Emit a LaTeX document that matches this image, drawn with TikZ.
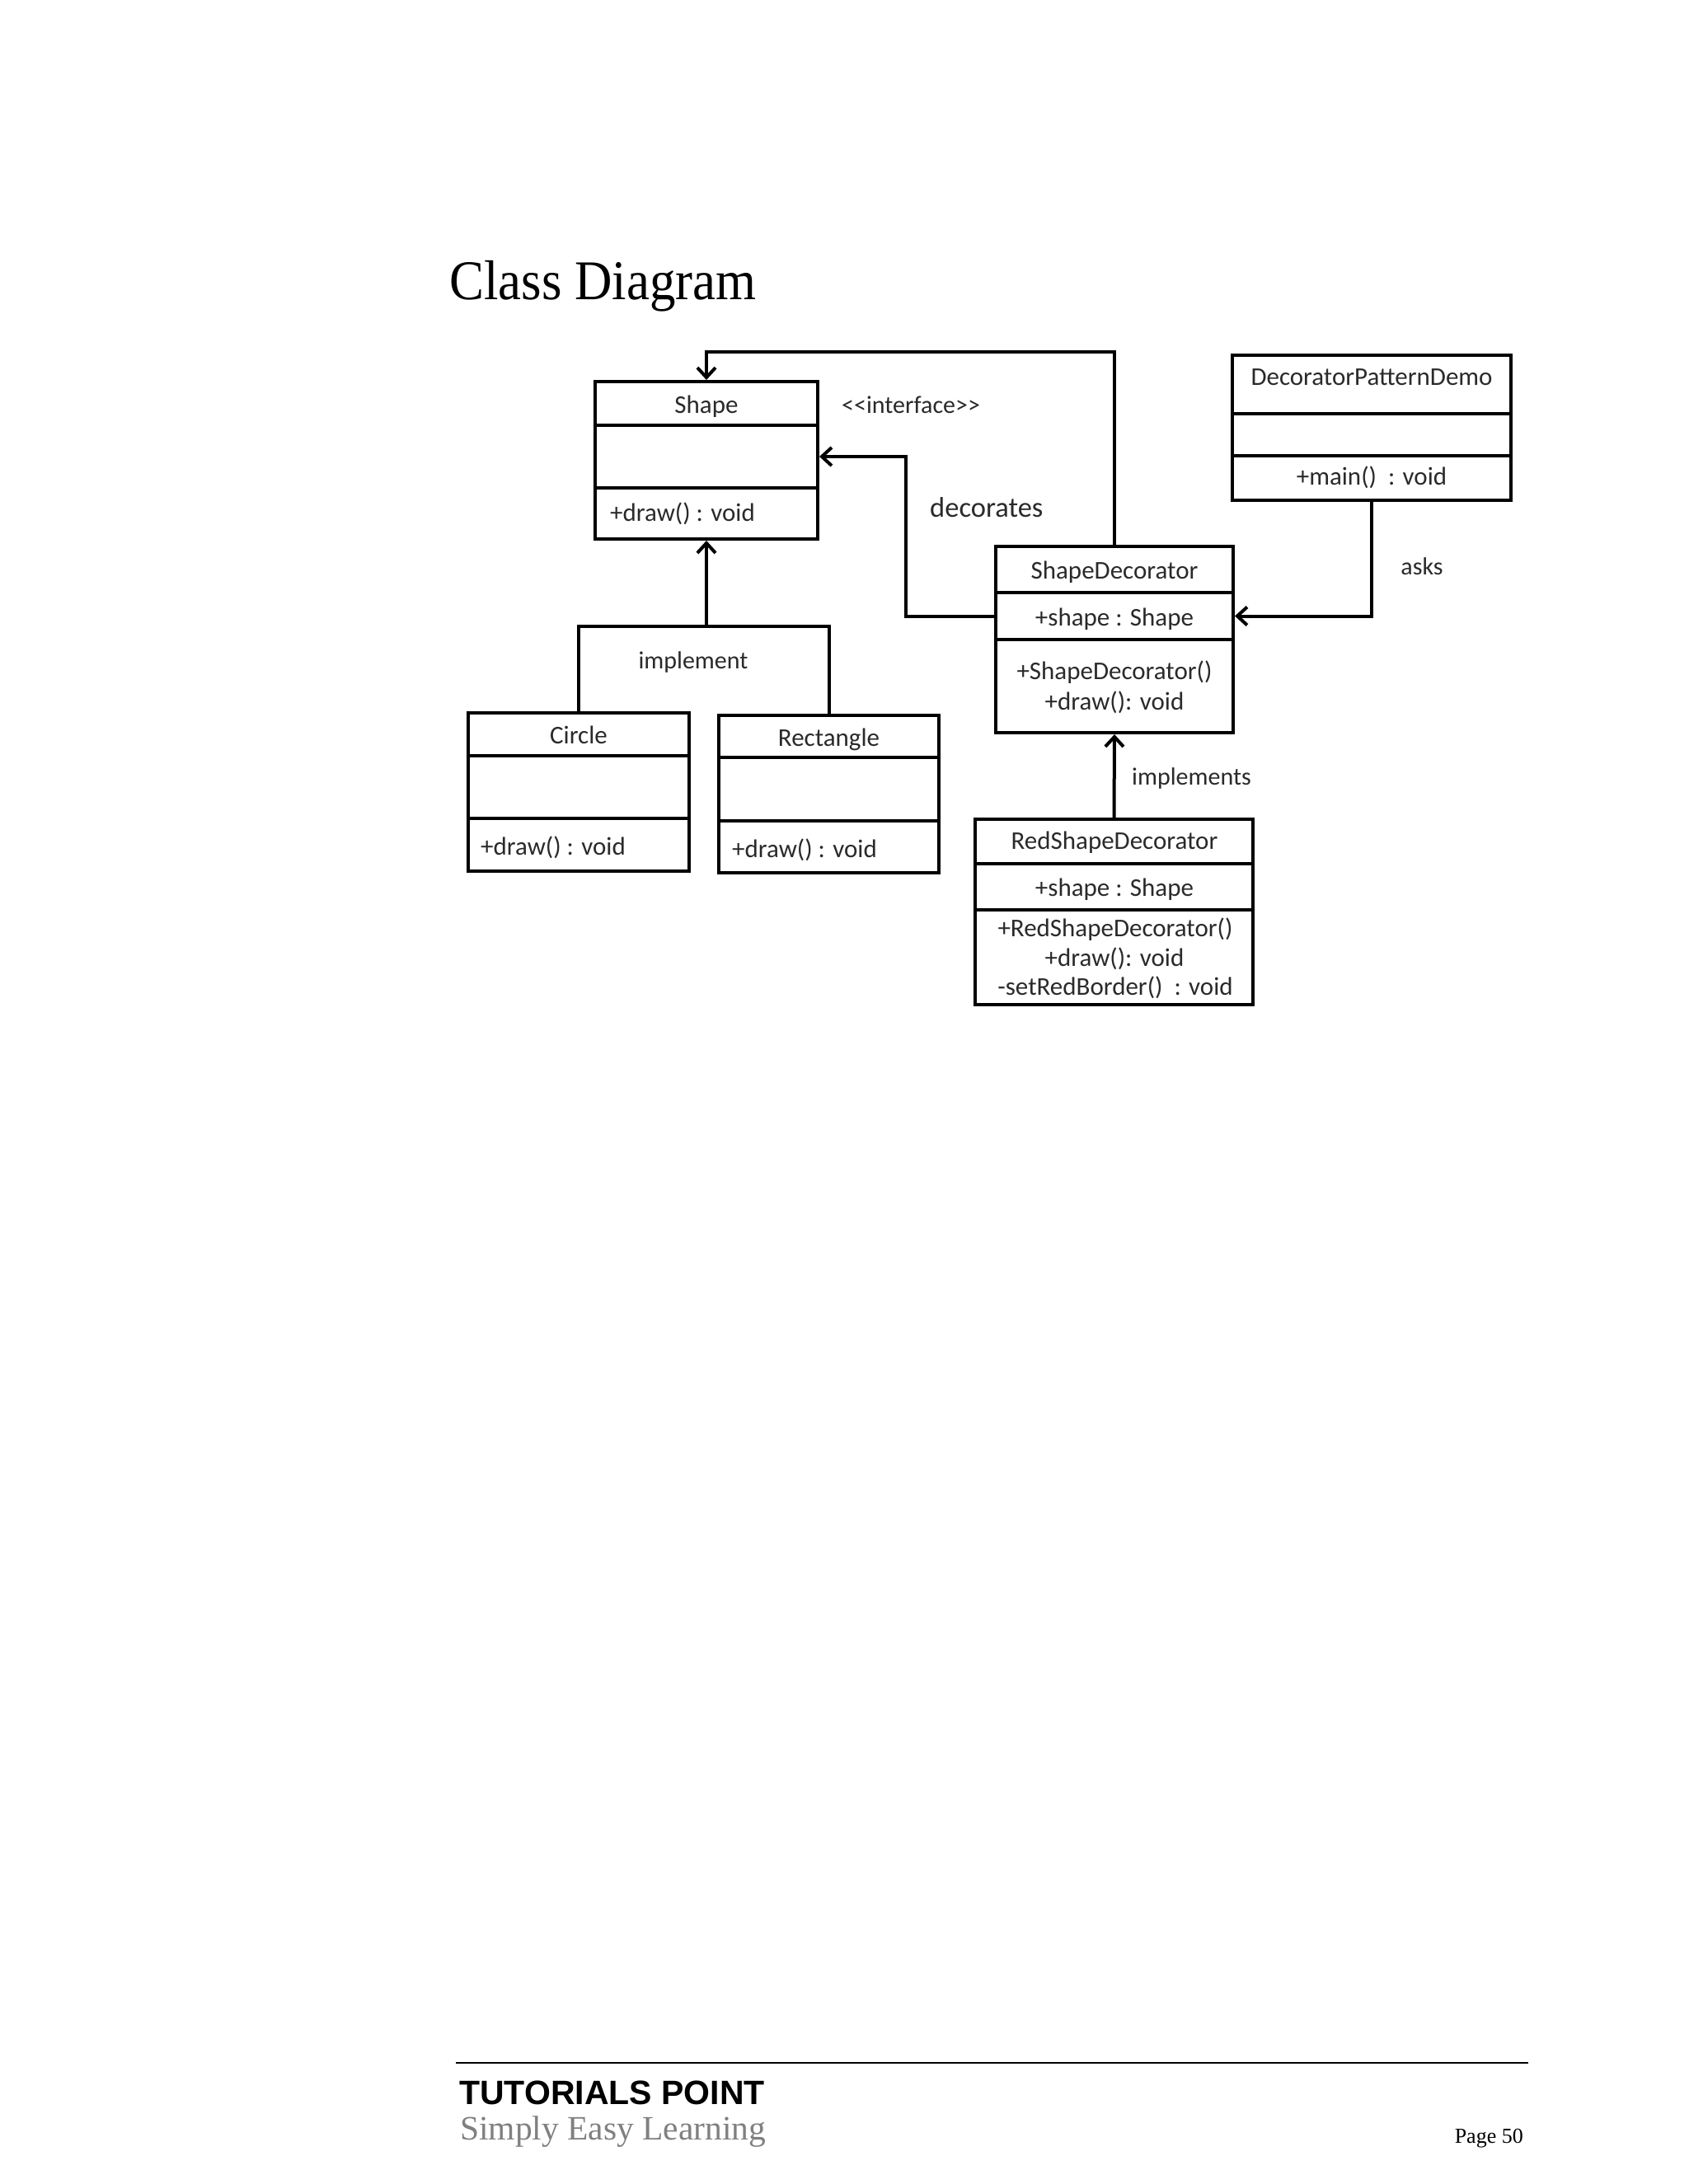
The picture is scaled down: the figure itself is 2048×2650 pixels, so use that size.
\documentclass[tikz,border=0pt]{standalone}
\usepackage{fontspec}
\setmainfont{Liberation Serif}
\newfontfamily\calfont{Carlito}
\newfontfamily\arialfont{Liberation Sans}
\usetikzlibrary{arrows.meta}
\definecolor{txt}{HTML}{2A2A2A}
\definecolor{footgray}{HTML}{808080}
\begin{document}
\begin{tikzpicture}[x=1pt,y=-1pt,
  comp/.style={draw=black, line width=4pt, inner sep=0pt, fill=none},
  ctext/.style={inner sep=0pt, text=txt, font=\calfont\fontsize{31}{37}\selectfont},
  ltext/.style={inner sep=0pt, text=txt, font=\calfont\fontsize{30}{36}\selectfont},
  conn/.style={draw=black, line width=4pt, -{Straight Barb[length=12pt,width=22pt]}},
  link/.style={draw=black, line width=4pt}
]
\fill[white] (0,0) rectangle (2048,2650);
\useasboundingbox (0,0) rectangle (2048,2650);

% Title
\node[anchor=base west, inner sep=0pt] (title) at (545,363)
  {\scalebox{0.925}[1]{\fontsize{68}{80}\selectfont Class Diagram}};

% Shape
\node[comp, minimum width=270pt, minimum height=53pt] (shN) at (857,489.5) {};
\node[comp, minimum width=270pt, minimum height=76pt] (shA) at (857,554) {};
\node[comp, minimum width=270pt, minimum height=62pt] (shO) at (857,623) {};
\node[ctext, anchor=base] (shNt) at (857,501) {Shape};
\node[ctext, anchor=base west] (shOt) at (740,632) {+draw() : void};

% Circle
\node[comp, minimum width=268pt, minimum height=52pt] (ciN) at (702,891) {};
\node[comp, minimum width=268pt, minimum height=76pt] (ciA) at (702,955) {};
\node[comp, minimum width=268pt, minimum height=64pt] (ciO) at (702,1025) {};
\node[ctext, anchor=base] (ciNt) at (702,902) {Circle};
\node[ctext, anchor=base west] (ciOt) at (583,1037) {+draw() : void};

% Rectangle
\node[comp, minimum width=267pt, minimum height=51pt] (reN) at (1005.5,893.5) {};
\node[comp, minimum width=267pt, minimum height=77pt] (reA) at (1005.5,957.5) {};
\node[comp, minimum width=267pt, minimum height=63pt] (reO) at (1005.5,1027.5) {};
\node[ctext, anchor=base] (reNt) at (1005.5,905) {Rectangle};
\node[ctext, anchor=base west] (reOt) at (888,1040) {+draw() : void};

% ShapeDecorator
\node[comp, minimum width=288pt, minimum height=56pt] (sdN) at (1352,691) {};
\node[comp, minimum width=288pt, minimum height=57pt] (sdA) at (1352,747.5) {};
\node[comp, minimum width=288pt, minimum height=113pt] (sdO) at (1352,832.5) {};
\node[ctext, anchor=base] (sdNt) at (1352,702) {ShapeDecorator};
\node[ctext, anchor=base] (sdAt) at (1352,759) {+shape : Shape};
\node[ctext, anchor=base] (sdO1) at (1352,824) {+ShapeDecorator()};
\node[ctext, anchor=base] (sdO2) at (1352,861) {+draw(): void};

% DecoratorPatternDemo
\node[comp, minimum width=338pt, minimum height=71pt] (dpN) at (1664,466.5) {};
\node[comp, minimum width=338pt, minimum height=51pt] (dpA) at (1664,527.5) {};
\node[comp, minimum width=338pt, minimum height=54pt] (dpO) at (1664,580) {};
\node[ctext, anchor=base] (dpNt) at (1664,467) {DecoratorPatternDemo};
\node[ctext, anchor=base] (dpOt) at (1664,588) {+main()~ : void};

% RedShapeDecorator
\node[comp, minimum width=337pt, minimum height=54pt] (rsN) at (1351.5,1021) {};
\node[comp, minimum width=337pt, minimum height=56pt] (rsA) at (1351.5,1076) {};
\node[comp, minimum width=337pt, minimum height=115pt] (rsO) at (1351.5,1161.5) {};
\node[ctext, anchor=base] (rsNt) at (1352,1030) {RedShapeDecorator};
\node[ctext, anchor=base] (rsAt) at (1352,1087) {+shape : Shape};
\node[ctext, anchor=base] (rsO1) at (1353,1136) {+RedShapeDecorator()};
\node[ctext, anchor=base] (rsO2) at (1352,1172) {+draw(): void};
\node[ctext, anchor=base] (rsO3) at (1353,1207) {-setRedBorder()~ : void};

% Connectors
\coordinate (k1) at (1352,427);
\draw[conn] (sdN.north) -- (k1) -| (shN.north);
\coordinate (k2) at (1099,554);
\draw[conn] (sdA.west) -| (k2) -- (shA.east);
\draw[conn] (dpO.south) |- (sdA.east);
\coordinate (k4) at (857,760);
\draw[link] (ciN.north) |- (k4) -| (reN.north);
\draw[conn] (k4) -- (shO.south);
\draw[conn] (rsN.north) -- (sdO.south);

% Labels
\node[ltext, anchor=base west] (lint) at (1021,501) {<<interface>>};
\node[inner sep=0pt, text=txt, font=\calfont\fontsize{34.5}{40}\selectfont, anchor=base west] (ldec) at (1128,627) {decorates};
\node[ltext, anchor=base] (lask) at (1725,697) {asks};
\node[ltext, anchor=base] (limp) at (841,811) {implement};
\node[ltext, anchor=base west] (limps) at (1373,952) {implements};

% Footer
\coordinate (f1) at (553,2503);
\coordinate (f2) at (1854,2503);
\draw[line width=2.5pt] (f1) -- (f2);
\node[anchor=base west, inner sep=0pt, font=\arialfont\bfseries\fontsize{41}{48}\selectfont] (tp) at (557,2553) {TUTORIALS POINT};
\node[anchor=base west, inner sep=0pt, text=footgray, font=\fontsize{41.5}{48}\selectfont] (sel) at (558,2596) {Simply Easy Learning};
\node[anchor=base east, inner sep=0pt, font=\fontsize{26}{30}\selectfont] (pg) at (1848,2600) {Page 50};
\end{tikzpicture}
\end{document}
